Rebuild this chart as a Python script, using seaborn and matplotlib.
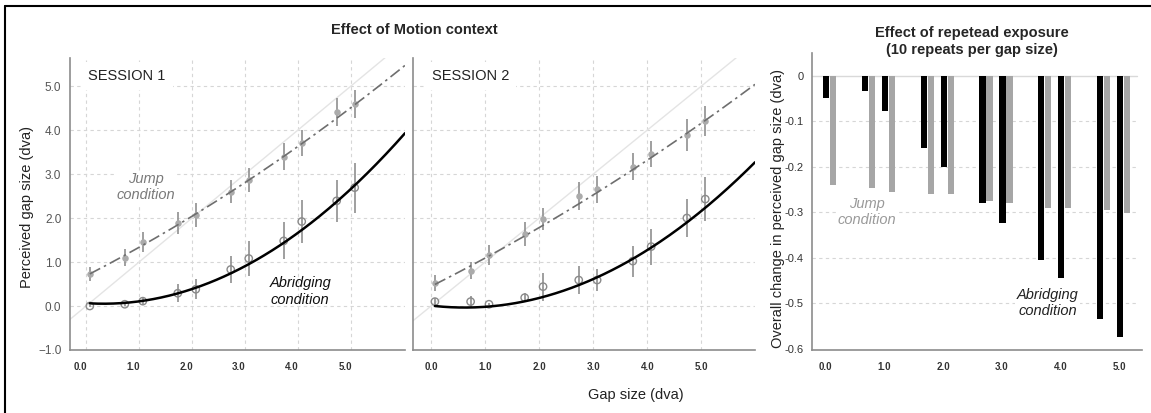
# Motion context / repeated exposure figure
import numpy as np
import pandas as pd
import matplotlib.pyplot as plt
import seaborn as sns
from matplotlib.lines import Line2D
from matplotlib.transforms import ScaledTranslation

# gap sizes (dva)
gap = [0.07, 0.73, 1.07, 1.73, 2.07, 2.73, 3.07, 3.73, 4.07, 4.73, 5.07]

# session 1
s1_jump = [0.73, 1.10, 1.45, 1.89, 2.07, 2.60, 2.86, 3.39, 3.70, 4.40, 4.59]
s1_jump_err = [0.16, 0.19, 0.23, 0.25, 0.27, 0.27, 0.28, 0.31, 0.29, 0.32, 0.31]
s1_abr = [0.00, 0.04, 0.11, 0.29, 0.38, 0.83, 1.08, 1.48, 1.92, 2.39, 2.69]
s1_abr_err = [0.03, 0.03, 0.08, 0.20, 0.23, 0.30, 0.39, 0.42, 0.48, 0.48, 0.57]

# session 2
s2_jump = [0.52, 0.80, 1.16, 1.63, 1.98, 2.50, 2.65, 3.17, 3.45, 3.89, 4.20]
s2_jump_err = [0.19, 0.19, 0.23, 0.27, 0.25, 0.31, 0.30, 0.30, 0.30, 0.36, 0.34]
s2_abr = [0.10, 0.10, 0.04, 0.19, 0.44, 0.59, 0.59, 1.02, 1.35, 2.00, 2.43]
s2_abr_err = [0.08, 0.13, 0.02, 0.10, 0.32, 0.31, 0.25, 0.35, 0.41, 0.44, 0.50]

# quadratic fits shown in the figure (c2, c1, c0)
s1_jump_fit = [0.0293, 0.618, 0.687]
s1_abr_fit = [0.1197, -0.079, 0.065]
s2_jump_fit = [0.0246, 0.619, 0.447]
s2_abr_fit = [0.1145, -0.142, 0.009]

# overall change session 1 -> 2
chg_abr = [-0.050, -0.033, -0.078, -0.160, -0.200, -0.279, -0.324, -0.406, -0.445, -0.535, -0.575]
chg_jump = [-0.240, -0.246, -0.256, -0.260, -0.260, -0.276, -0.280, -0.291, -0.291, -0.296, -0.301]

xticks = [0, 1, 2, 3, 4, 5]
yticks_left = [-1, 0, 1, 2, 3, 4, 5]
yticks_right = [0, -0.1, -0.2, -0.3, -0.4, -0.5, -0.6]

sns.set_style("white")
plt.rcParams['font.family'] = ['Liberation Sans', 'DejaVu Sans']

W, H = 1151, 413
fig = plt.figure(figsize=(W / 100, H / 100), dpi=100)

def px(l, t, r, b):
    return [l / W, 1 - b / H, (r - l) / W, (b - t) / H]

ax1 = fig.add_axes(px(69.7, 58.3, 405, 350))
ax2 = fig.add_axes(px(413.3, 58.3, 755, 350))
ax3 = fig.add_axes(px(812, 53.3, 1141.7, 350))

spine_c = '#8c8c8c'
grid_c = '#d6d6d6'
err_c = '#8f8f8f'


def session_panel(ax, jump, jump_err, abr, abr_err, jfit, afit, xlim, title, show_labels):
    ax.set_xlim(*xlim)
    ax.set_ylim(-1, 5.63)
    for x in xticks:
        ax.axvline(x, color=grid_c, lw=0.8, ls=(0, (3, 3)), zorder=0)
    for y in yticks_left[1:]:
        ax.axhline(y, color=grid_c, lw=0.8, ls=(0, (3, 3)), zorder=0)
    # identity line
    ax.plot(xlim, xlim, color='#e4e4e4', lw=1, zorder=1)

    ax.errorbar(gap, jump, yerr=jump_err, fmt='none', ecolor=err_c, elinewidth=1.2, zorder=2)
    ax.errorbar(gap, abr, yerr=abr_err, fmt='none', ecolor=err_c, elinewidth=1.2, zorder=2)
    sns.scatterplot(x=gap, y=jump, ax=ax, color='#ababab', s=22, linewidth=0, zorder=3)
    sns.scatterplot(x=gap, y=abr, ax=ax, facecolor='none', edgecolor='#8a8a8a', s=28,
                    linewidth=1.0, zorder=3)

    # fitted curves
    xs = np.linspace(gap[0], xlim[1], 200)
    ax.plot(xs, np.polyval(jfit, xs), color='#6e6e6e', lw=1.2,
            ls=(0, (7, 2.5, 1.5, 2.5)), zorder=4)
    ax.plot(xs, np.polyval(afit, xs), color='black', lw=1.8, zorder=4)

    ax.text(0.055, 0.94, title, transform=ax.transAxes, fontsize=10.5, color='#222',
            va='center', ha='left', bbox=dict(facecolor='white', edgecolor='none', pad=5))

    for s in ['top', 'right']:
        ax.spines[s].set_visible(False)
    for s in ['left', 'bottom']:
        ax.spines[s].set_color(spine_c)
        ax.spines[s].set_linewidth(1.2)
    ax.set_xticks(xticks)
    ax.set_xticklabels(['%.1f' % v for v in xticks], fontsize=7, fontweight='bold', color='#333')
    ax.set_yticks(yticks_left)
    if show_labels:
        ax.set_yticklabels(['\u22121.0', '0.0', '1.0', '2.0', '3.0', '4.0', '5.0'],
                           fontsize=8.5, color='#555')
    else:
        ax.set_yticklabels([])
    ax.tick_params(axis='x', length=0, pad=9)
    ax.tick_params(axis='y', length=5, width=1.2, color=spine_c, direction='out', pad=1)
    ax.set_xlabel('')
    ax.set_ylabel('')


session_panel(ax1, s1_jump, s1_jump_err, s1_abr, s1_abr_err, s1_jump_fit, s1_abr_fit,
              (-0.31, 6.02), 'SESSION 1', True)
session_panel(ax2, s2_jump, s2_jump_err, s2_abr, s2_abr_err, s2_jump_fit, s2_abr_fit,
              (-0.33, 5.99), 'SESSION 2', False)

# session 1 tick labels sit slightly left in the original
for lab in ax1.get_xticklabels():
    lab.set_transform(lab.get_transform() + ScaledTranslation(-6 / 100, 0, fig.dpi_scale_trans))

ax1.text(1.13, 2.70, 'Jump\ncondition', fontsize=10.5, style='italic', color='#7a7a7a',
         ha='center', va='center', bbox=dict(facecolor='white', edgecolor='none', pad=1))
ax1.text(4.04, 0.33, 'Abridging\ncondition', fontsize=10.5, style='italic', color='#111',
         ha='center', va='center')

# bar chart
bars = pd.DataFrame({
    'gap': gap * 2,
    'change': chg_abr + chg_jump,
    'cond': ['Abridging'] * len(gap) + ['Jump'] * len(gap),
})
for y in yticks_right[1:-1]:
    ax3.axhline(y, xmin=0, xmax=0.985, color=grid_c, lw=0.8, ls=(0, (3, 3)), zorder=0)
ax3.axhline(0, xmin=0, xmax=0.985, color='#d9d9d9', lw=1.0, zorder=0)
sns.barplot(data=bars, x='gap', y='change', hue='cond', hue_order=['Abridging', 'Jump'],
            palette={'Abridging': 'black', 'Jump': '#a6a6a6'}, native_scale=True,
            width=0.7, gap=0.12, linewidth=0, legend=False, ax=ax3, zorder=2)
ax3.set_xlim(-0.23, 5.38)
ax3.set_ylim(-0.603, 0.049)
ax3.set_xticks(xticks)
ax3.set_xticklabels(['%.1f' % v for v in xticks], fontsize=7, fontweight='bold', color='#333')
ax3.set_yticks(yticks_right)
ax3.set_yticklabels(['0', '-0.1', '-0.2', '-0.3', '-0.4', '-0.5', '-0.6'], fontsize=8, color='#333')
for lab in ax3.get_yticklabels():
    lab.set_transform(lab.get_transform() + ScaledTranslation(0, 7 / 100, fig.dpi_scale_trans))
ax3.tick_params(axis='x', length=0, pad=9)
ax3.tick_params(axis='y', length=0, pad=6)
for s in ['top', 'right']:
    ax3.spines[s].set_visible(False)
for s in ['left', 'bottom']:
    ax3.spines[s].set_color(spine_c)
    ax3.spines[s].set_linewidth(1.2)
ax3.set_xlabel('')
ax3.set_ylabel('')
ax3.text(0.70, -0.30, 'Jump\ncondition', fontsize=10.5, style='italic', color='#9a9a9a',
         ha='center', va='center', bbox=dict(facecolor='white', edgecolor='none', pad=1))
ax3.text(3.78, -0.50, 'Abridging\ncondition', fontsize=10.5, style='italic', color='#222',
         ha='center', va='center', bbox=dict(facecolor='white', edgecolor='none', pad=1))

# figure texts
fig.text(414 / W, 1 - 30 / H, 'Effect of Motion context', fontsize=10.5, fontweight='bold',
         ha='center', va='center')
fig.text(971.7 / W, 1 - 41.5 / H, 'Effect of repetead exposure\n(10 repeats per gap size)',
         fontsize=10.5, fontweight='bold', ha='center', va='center')
fig.text(636 / W, 1 - 395 / H, 'Gap size (dva)', fontsize=10.5, color='#222',
         ha='center', va='center')
fig.text(27 / W, 1 - 207 / H, 'Perceived gap size (dva)', fontsize=10.5, color='#222',
         rotation=90, ha='center', va='center')
fig.text(778 / W, 1 - 209 / H, 'Overall change in perceived gap size (dva)', fontsize=10.5,
         color='#222', rotation=90, ha='center', va='center')

# frame (top and left edges only)
fig.add_artist(Line2D([5 / W, 1], [1 - 6 / H, 1 - 6 / H], transform=fig.transFigure,
                      color='black', lw=1.5))
fig.add_artist(Line2D([5 / W, 5 / W], [0, 1 - 6 / H], transform=fig.transFigure,
                      color='black', lw=1.5))

fig.savefig('out.png', dpi=100)
